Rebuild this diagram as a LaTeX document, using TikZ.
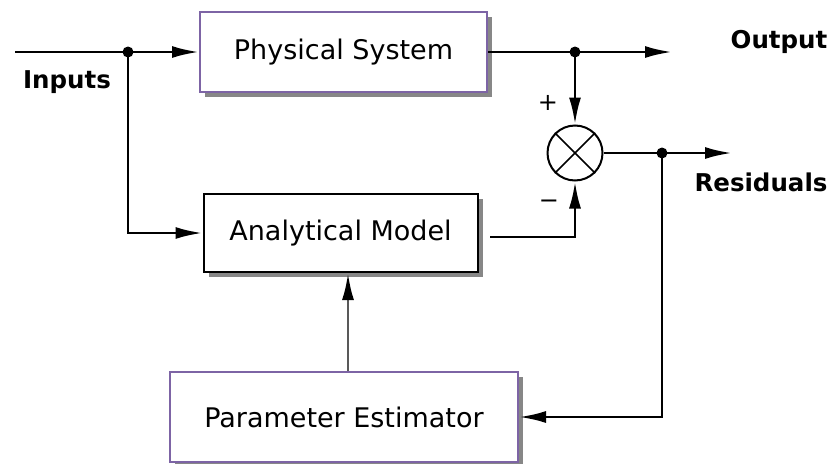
\documentclass[tikz,border=0pt]{standalone}
\usepackage{fontspec}
\setmainfont{DejaVu Sans}
\usetikzlibrary{arrows.meta,shadows}
\definecolor{boxpurple}{RGB}{125,100,165}
\definecolor{shadowgray}{RGB}{135,135,135}
\begin{document}
\begin{tikzpicture}[x=1pt,y=-1pt,
  blk/.style={draw, line width=2pt, fill=white, inner sep=0pt,
    font=\fontsize{27}{30}\selectfont,
    drop shadow={shadow xshift=5pt, shadow yshift=-5pt, fill=shadowgray, opacity=1}},
  pblk/.style={blk, draw=boxpurple},
  wire/.style={line width=2.8pt, black},
  arr/.style={wire, -{Latex[length=27pt,width=12pt]}},
  lbl/.style={font=\bfseries\fontsize{24.5}{27}\selectfont},
  sgn/.style={font=\fontsize{24}{26}\selectfont}]
\useasboundingbox (0,0) rectangle (834,463);
\node[pblk, minimum width=287pt, minimum height=80pt] (ps) at (343.5,52) {Physical System};
\node[blk, minimum width=274pt, minimum height=78pt] (am) at (340.5,233) {Analytical Model};
\node[pblk, minimum width=348pt, minimum height=90pt] (pe) at (344,417) {Parameter Estimator};
\node[circle, draw, line width=2pt, minimum size=55pt, inner sep=0pt] (sum) at (575,153) {};
\draw[line width=1.6pt] (sum.north west) -- (sum.south east) (sum.north east) -- (sum.south west);
\coordinate (in) at (15,52);
\coordinate (j1) at (128,52);
\coordinate (j2) at (575,52);
\coordinate (out) at (672,52);
\coordinate (j3) at (662,153);
\coordinate (res) at (732,153);
\coordinate (amo) at (490,237);
\draw[wire] (in) -- (j1);
\draw[arr] (j1) -- (ps.west);
\draw[arr] (j1) |- (am.west);
\draw[wire] (ps.east) -- (j2);
\draw[arr] (j2) -- (out);
\draw[arr] (j2) -- (sum.north);
\draw[arr] (amo) -| (sum.south);
\draw[wire] (sum.east) -- (j3);
\draw[arr] (j3) -- (res);
\draw[arr] (j3) |- (pe.east);
\draw[wire, draw=gray!70!black, -{Latex[length=27pt,width=12pt,color=black]}] ([xshift=4pt]pe.north) -- ([xshift=4pt]pe.north |- am.south);
\foreach \p in {j1,j2,j3} \fill (\p) circle (5.5pt);
\node[lbl] (tin) at (67,82) {Inputs};
\node[lbl] (tout) at (779,42) {Output};
\node[lbl] (tres) at (761,182) {Residuals};
\node[sgn] (tplus) at (548,103) {+};
\node[sgn] (tminus) at (549,204) {−};
\end{tikzpicture}
\end{document}
